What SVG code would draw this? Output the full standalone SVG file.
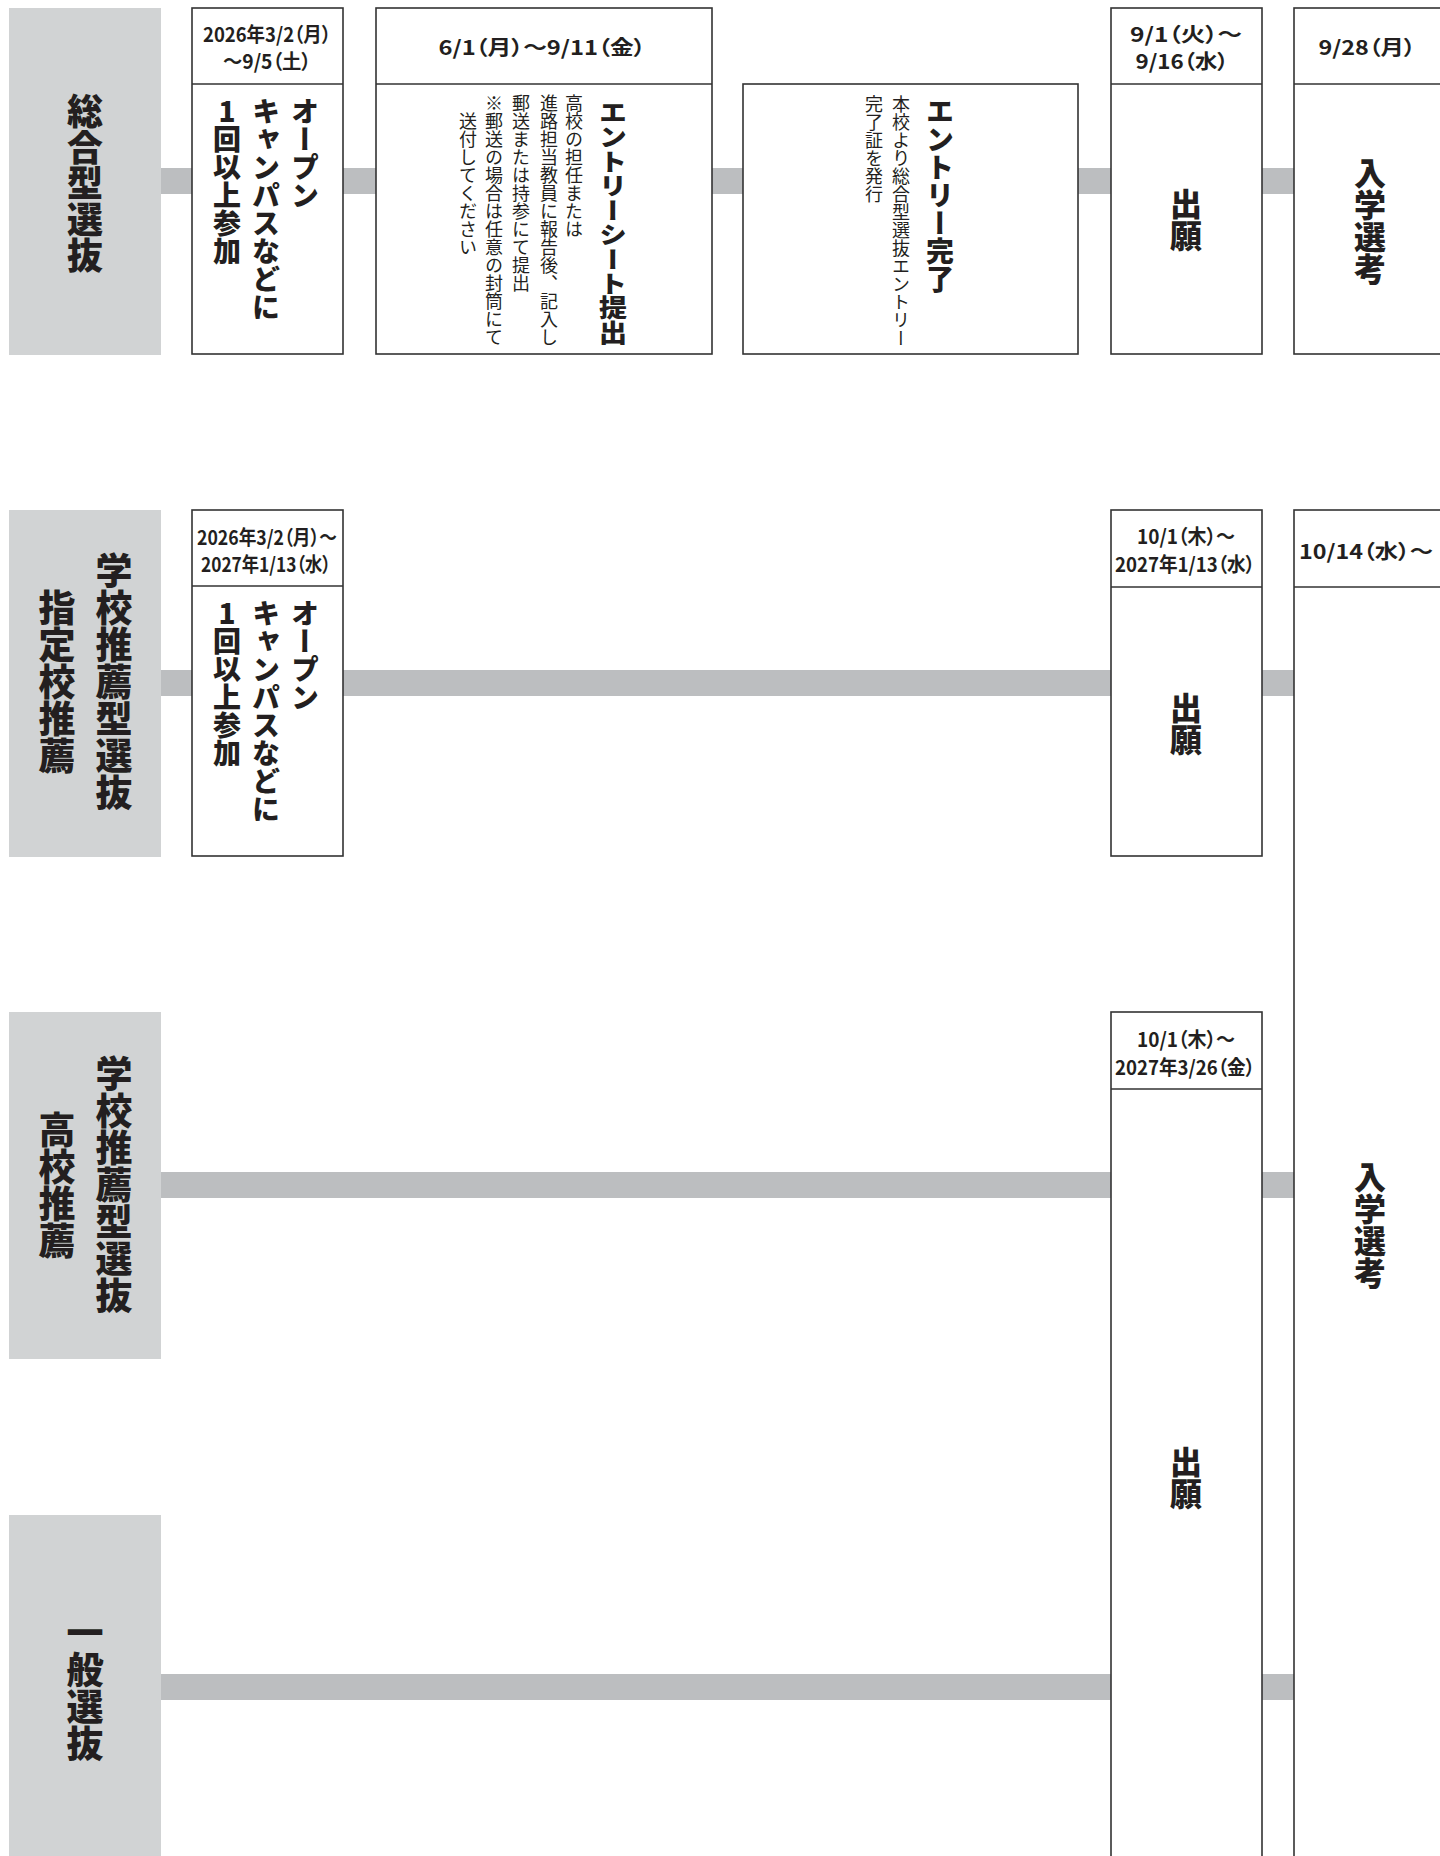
<svg xmlns="http://www.w3.org/2000/svg" width="1440" height="1856" viewBox="0 0 1440 1856">
<style>
.lbl{fill:#d1d3d4}
.bar{fill:#bcbec0}
.box{fill:#fff;stroke:#333;stroke-width:1.6}
.hd{fill:none;stroke:#333;stroke-width:1.6}
text{fill:#231f20;font-family:"Noto Sans CJK JP","Noto Sans CJK SC",sans-serif}
.v{writing-mode:vertical-rl;text-orientation:upright}
.big{font-size:37px;font-weight:900}
.mid{font-size:28px;font-weight:900}
.stage{font-size:32px;font-weight:900}
.sub{font-size:18px;font-weight:400}
.date{font-size:20px;font-weight:700;font-feature-settings:"palt"}
</style>
<rect width="1440" height="1856" fill="#fff"/>
<g id="connectors">
<rect class="bar" x="160" y="168" width="1136" height="26"/>
<rect class="bar" x="160" y="670" width="34" height="26"/>
<rect class="bar" x="342" y="670" width="770" height="26"/>
<rect class="bar" x="1261" y="670" width="34" height="26"/>
<rect class="bar" x="160" y="1172" width="952" height="26"/>
<rect class="bar" x="1261" y="1172" width="34" height="26"/>
<rect class="bar" x="160" y="1674" width="952" height="26"/>
<rect class="bar" x="1261" y="1674" width="34" height="26"/>
</g>
<g id="label-sogo">
<rect class="lbl" x="9" y="8" width="152" height="347"/>
<text class="v big" x="85" y="183" text-anchor="middle" style="font-size:36px">総合型選抜</text>
</g>
<g id="label-shitei">
<rect class="lbl" x="9" y="510" width="152" height="347"/>
<text class="v big" x="114" y="682" text-anchor="middle">学校推薦型選抜</text>
<text class="v big" x="57" y="682" text-anchor="middle">指定校推薦</text>
</g>
<g id="label-koko">
<rect class="lbl" x="9" y="1012" width="152" height="347"/>
<text class="v big" x="114" y="1185" text-anchor="middle">学校推薦型選抜</text>
<text class="v big" x="57" y="1185" text-anchor="middle">高校推薦</text>
</g>
<g id="label-ippan">
<rect class="lbl" x="9" y="1515" width="152" height="350"/>
<text class="v big" x="85" y="1688" text-anchor="middle">一般選抜</text>
</g>
<g id="oc1">
<rect class="box" x="192" y="8" width="151" height="346"/>
<line class="hd" x1="192" y1="84" x2="343" y2="84"/>
<text class="date" x="267" y="33" text-anchor="middle" dominant-baseline="central" textLength="128" lengthAdjust="spacingAndGlyphs">2026年3/2（月）</text>
<text class="date" x="267" y="60" text-anchor="middle" dominant-baseline="central" textLength="88" lengthAdjust="spacingAndGlyphs">～9/5（土）</text>
<text class="v mid" x="305" y="97">オープン</text>
<text class="v mid" x="266" y="97">キャンパスなどに</text>
<text class="v mid" x="227" y="97">1回以上参加</text>
</g>
<g id="entrysheet">
<rect class="box" x="376" y="8" width="336" height="346"/>
<line class="hd" x1="376" y1="84" x2="712" y2="84"/>
<text class="date" x="542" y="46" text-anchor="middle" dominant-baseline="central" textLength="207" lengthAdjust="spacingAndGlyphs">6/1（月）～9/11（金）</text>
<text class="v mid" transform="translate(613,100) scale(1,0.875)" x="0" y="0">エントリーシート提出</text>
<text class="v sub" x="574" y="94">高校の担任または</text>
<text class="v sub" x="549" y="94">進路担当教員に報告後、記入し</text>
<text class="v sub" x="521" y="94">郵送または持参にて提出</text>
<text class="v sub" x="494" y="94">※郵送の場合は任意の封筒にて</text>
<text class="v sub" x="468" y="112">送付してください</text>
</g>
<g id="entrydone">
<rect class="box" x="743" y="84" width="335" height="270"/>
<text class="v mid" x="940" y="97">エントリー完了</text>
<text class="v sub" x="901" y="95">本校より総合型選抜エントリー</text>
<text class="v sub" x="874" y="95">完了証を発行</text>
</g>
<g id="apply1">
<rect class="box" x="1111" y="8" width="151" height="346"/>
<line class="hd" x1="1111" y1="84" x2="1262" y2="84"/>
<text class="date" x="1186" y="33" text-anchor="middle" dominant-baseline="central" textLength="112" lengthAdjust="spacingAndGlyphs">9/1（火）～</text>
<text class="date" x="1182" y="60" text-anchor="middle" dominant-baseline="central" textLength="93" lengthAdjust="spacingAndGlyphs">9/16（水）</text>
<text class="v stage" x="1186" y="220" text-anchor="middle">出願</text>
</g>
<g id="exam1">
<rect class="box" x="1294" y="8" width="152" height="346"/>
<line class="hd" x1="1294" y1="84" x2="1446" y2="84"/>
<text class="date" x="1367" y="46" text-anchor="middle" dominant-baseline="central" textLength="97" lengthAdjust="spacingAndGlyphs">9/28（月）</text>
<text class="v stage" x="1370" y="221" text-anchor="middle">入学選考</text>
</g>
<g id="oc2">
<rect class="box" x="192" y="510" width="151" height="346"/>
<line class="hd" x1="192" y1="586" x2="343" y2="586"/>
<text class="date" x="267" y="536" text-anchor="middle" dominant-baseline="central" textLength="140" lengthAdjust="spacingAndGlyphs">2026年3/2（月）～</text>
<text class="date" x="266" y="563" text-anchor="middle" dominant-baseline="central" textLength="130" lengthAdjust="spacingAndGlyphs">2027年1/13（水）</text>
<text class="v mid" x="305" y="599">オープン</text>
<text class="v mid" x="266" y="599">キャンパスなどに</text>
<text class="v mid" x="227" y="599">1回以上参加</text>
</g>
<g id="apply2">
<rect class="box" x="1111" y="510" width="151" height="346"/>
<line class="hd" x1="1111" y1="587" x2="1262" y2="587"/>
<text class="date" x="1186" y="535" text-anchor="middle" dominant-baseline="central" textLength="98" lengthAdjust="spacingAndGlyphs">10/1（木）～</text>
<text class="date" x="1185" y="563" text-anchor="middle" dominant-baseline="central" textLength="140" lengthAdjust="spacingAndGlyphs">2027年1/13（水）</text>
<text class="v stage" x="1186" y="724" text-anchor="middle">出願</text>
</g>
<g id="exam2">
<rect class="box" x="1294" y="510" width="152" height="1360"/>
<line class="hd" x1="1294" y1="587" x2="1446" y2="587"/>
<text class="date" x="1366" y="550" text-anchor="middle" dominant-baseline="central" textLength="134" lengthAdjust="spacingAndGlyphs">10/14（水）～</text>
<text class="v stage" x="1370" y="1225" text-anchor="middle">入学選考</text>
</g>
<g id="apply3">
<rect class="box" x="1111" y="1012" width="151" height="860"/>
<line class="hd" x1="1111" y1="1089" x2="1262" y2="1089"/>
<text class="date" x="1186" y="1038" text-anchor="middle" dominant-baseline="central" textLength="98" lengthAdjust="spacingAndGlyphs">10/1（木）～</text>
<text class="date" x="1185" y="1066" text-anchor="middle" dominant-baseline="central" textLength="140" lengthAdjust="spacingAndGlyphs">2027年3/26（金）</text>
<text class="v stage" x="1186" y="1478" text-anchor="middle">出願</text>
</g>
</svg>
